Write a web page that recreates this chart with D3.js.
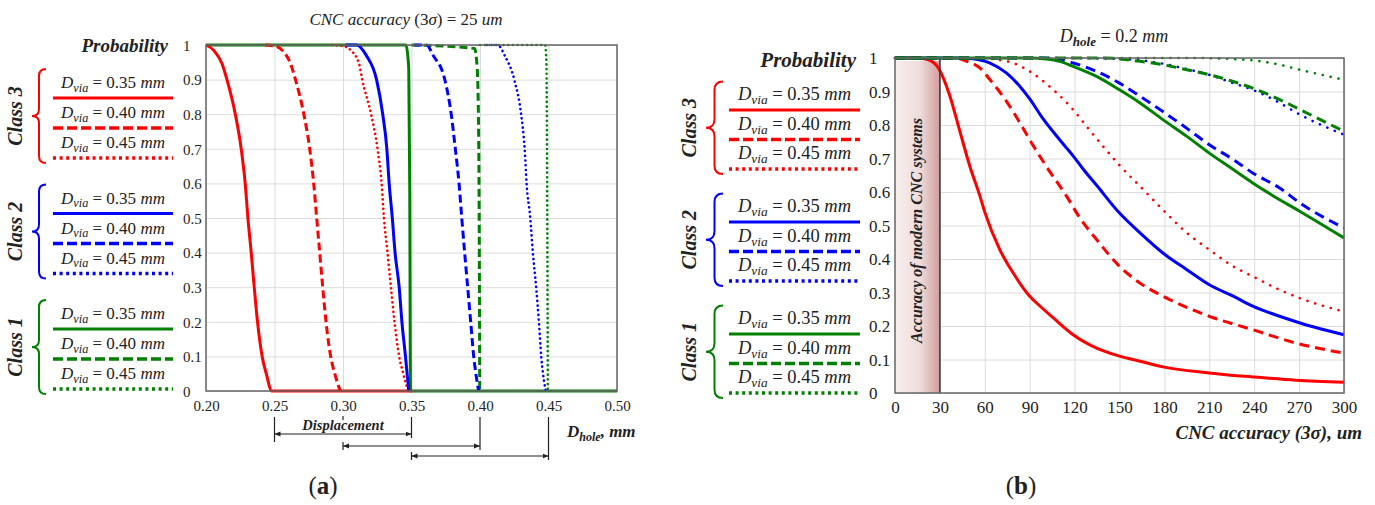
<!DOCTYPE html>
<html>
<head>
<meta charset="utf-8">
<script src="https://cdn.jsdelivr.net/npm/d3@7"></script>
<style>
  body { margin: 0; background: #fff; }
  text { font-family: "Liberation Serif", "DejaVu Serif", serif; fill: #222; }
</style>
</head>
<body>
<div id="chart"></div>
<script>
// ---- data ----
const classNames = ["Class 3", "Class 2", "Class 1"];
const dviaValues = ["0.35", "0.40", "0.45"];
const probTicks = [0, 0.1, 0.2, 0.3, 0.4, 0.5, 0.6, 0.7, 0.8, 0.9, 1];
const holeTicks = [0.20, 0.25, 0.30, 0.35, 0.40, 0.45, 0.50];
const accTicks = [0, 30, 60, 90, 120, 150, 180, 210, 240, 270, 300];
const displacement = [[0.25, 0.35], [0.30, 0.40], [0.35, 0.45]];
const modernAccuracy = 30;

// (a) probability vs D_hole, CNC accuracy 25 um
const a_c3_035 = [[0.200,1],[0.2056,0.985],[0.2117,0.946],[0.2153,0.9],[0.2214,0.8],[0.2257,0.7],[0.2286,0.6],[0.2306,0.5],[0.233,0.4],[0.2352,0.3],[0.2376,0.2],[0.241,0.1],[0.244,0.05],[0.248,0],[0.350,0]];
const a_c3_040 = [[0.243,1],[0.250,0.997],[0.2556,0.985],[0.2617,0.946],[0.2653,0.9],[0.2714,0.8],[0.2757,0.7],[0.2786,0.6],[0.2808,0.5],[0.283,0.4],[0.2852,0.3],[0.2876,0.2],[0.291,0.1],[0.294,0.05],[0.298,0]];
const a_c3_045 = [[0.292,1],[0.300,0.997],[0.3056,0.985],[0.3117,0.946],[0.314,0.9],[0.3205,0.8],[0.3252,0.7],[0.3282,0.6],[0.3299,0.5],[0.3325,0.4],[0.335,0.3],[0.3376,0.2],[0.341,0.1],[0.344,0.05],[0.3476,0]];
const a_c2_035 = [[0.302,1],[0.310,1],[0.317,0.97],[0.3245,0.9],[0.329,0.8],[0.332,0.7],[0.3337,0.6],[0.336,0.5],[0.338,0.4],[0.341,0.3],[0.343,0.2],[0.3456,0.1],[0.348,0]];
const a_c2_040 = [[0.352,1],[0.361,1],[0.3658,0.97],[0.3743,0.9],[0.379,0.8],[0.382,0.7],[0.3847,0.6],[0.3867,0.5],[0.3888,0.4],[0.391,0.3],[0.3932,0.2],[0.3954,0.1],[0.397,0.05],[0.399,0]];
const a_c2_045 = [[0.405,1],[0.413,1],[0.418,0.97],[0.425,0.9],[0.430,0.8],[0.4326,0.7],[0.434,0.6],[0.4367,0.5],[0.4386,0.4],[0.441,0.3],[0.443,0.2],[0.4447,0.1],[0.446,0.05],[0.448,0]];
const a_c1_035 = [[0.200,1],[0.3459,1],[0.3475,0.96],[0.348,0.93],[0.3487,0.6],[0.3493,0],[0.500,0]];
const a_c1_040 = [[0.350,1],[0.396,0.99],[0.398,0.93],[0.399,0.75],[0.3995,0.4],[0.3998,0]];
const a_c1_045 = [[0.400,1],[0.4475,1],[0.4485,0.95],[0.449,0.6],[0.4495,0]];

// (b) probability vs CNC accuracy, D_hole 0.2 mm
const b_c3_035 = [[0,1],[15,1],[22,0.995],[29,0.97],[36.7,0.886],[43.4,0.78],[50,0.677],[56.8,0.587],[60,0.54],[70,0.428],[79,0.358],[90,0.289],[97,0.259],[105.8,0.224],[119,0.174],[134.7,0.134],[150,0.11],[163.7,0.095],[179,0.078],[210,0.06],[239,0.048],[268,0.038],[300,0.032]];
const b_c3_040 = [[0,1],[40,1],[48,0.99],[56.8,0.97],[63.5,0.935],[74.6,0.87],[83.5,0.806],[90,0.756],[101,0.677],[114.7,0.587],[123.6,0.522],[134.7,0.458],[150,0.378],[163.7,0.328],[179,0.289],[210,0.229],[239,0.189],[268,0.149],[300,0.119]];
const b_c3_045 = [[0,1],[55,1],[68,0.995],[79,0.985],[90,0.96],[105.8,0.905],[119,0.846],[128,0.796],[141,0.726],[150,0.68],[163.7,0.617],[179,0.547],[195,0.478],[210,0.428],[226,0.378],[239,0.348],[257,0.308],[270.6,0.283],[300,0.243]];
const b_c2_035 = [[0,1],[45,1],[52,0.998],[63.5,0.985],[74.6,0.955],[83.5,0.915],[90,0.878],[99,0.818],[110,0.756],[119,0.708],[125.8,0.668],[134.7,0.62],[150,0.537],[163.7,0.478],[179,0.418],[195,0.368],[210,0.323],[226,0.289],[239,0.259],[257,0.229],[270.6,0.209],[300,0.174]];
const b_c2_040 = [[0,1],[100,1],[119,0.985],[134.7,0.96],[150,0.925],[163.7,0.886],[179,0.84],[195,0.79],[210,0.741],[226,0.697],[239,0.657],[257,0.612],[270.6,0.567],[300,0.493]];
const b_c2_045 = [[0,1],[110,1],[150,0.997],[163.7,0.993],[179,0.983],[195,0.967],[210,0.95],[226,0.925],[239,0.905],[257,0.866],[270.6,0.831],[300,0.771]];
const b_c1_035 = [[0,1],[90,1],[101,0.997],[110,0.99],[119,0.975],[134.7,0.945],[150,0.905],[163.7,0.866],[179,0.816],[195,0.766],[210,0.716],[226,0.667],[239,0.627],[257,0.577],[270.6,0.542],[300,0.463]];
const b_c1_040 = [[0,1],[140,1],[163.7,0.99],[179,0.98],[195,0.965],[210,0.95],[226,0.93],[239,0.91],[257,0.876],[270.6,0.846],[300,0.781]];
const b_c1_045 = [[0,1],[200,1],[226,0.997],[239,0.993],[257,0.98],[270.6,0.965],[300,0.935]];

// draw order matters a bit (what shows on the plateau at P = 1)
const seriesA = [
  {cls: "Class 1", dv: "0.35", values: a_c1_035},
  {cls: "Class 1", dv: "0.40", values: a_c1_040},
  {cls: "Class 1", dv: "0.45", values: a_c1_045},
  {cls: "Class 3", dv: "0.35", values: a_c3_035},
  {cls: "Class 3", dv: "0.40", values: a_c3_040},
  {cls: "Class 3", dv: "0.45", values: a_c3_045},
  {cls: "Class 2", dv: "0.35", values: a_c2_035},
  {cls: "Class 2", dv: "0.40", values: a_c2_040},
  {cls: "Class 2", dv: "0.45", values: a_c2_045}
];
const seriesB = [
  {cls: "Class 3", dv: "0.35", values: b_c3_035},
  {cls: "Class 3", dv: "0.40", values: b_c3_040},
  {cls: "Class 3", dv: "0.45", values: b_c3_045},
  {cls: "Class 2", dv: "0.35", values: b_c2_035},
  {cls: "Class 2", dv: "0.40", values: b_c2_040},
  {cls: "Class 2", dv: "0.45", values: b_c2_045},
  {cls: "Class 1", dv: "0.45", values: b_c1_045},
  {cls: "Class 1", dv: "0.40", values: b_c1_040},
  {cls: "Class 1", dv: "0.35", values: b_c1_035}
];

// ---- setup ----
const color = d3.scaleOrdinal().domain(classNames).range(["#ff0000", "#0000ff", "#008000"]);

const svg = d3.select("#chart").append("svg")
  .attr("width", 1375)
  .attr("height", 505);

const defs = svg.append("defs");
defs.append("marker")
  .attr("id", "arr")
  .attr("viewBox", "0 0 10 10")
  .attr("refX", 10).attr("refY", 5)
  .attr("markerWidth", 5).attr("markerHeight", 5)
  .attr("orient", "auto-start-reverse")
  .append("path").attr("d", "M0,1 L10,5 L0,9 z").attr("fill", "#222");

const grad = defs.append("linearGradient").attr("id", "shade")
  .attr("x1", "0%").attr("x2", "100%").attr("y1", "0%").attr("y2", "0%");
grad.append("stop").attr("offset", "0%").attr("stop-color", "#f8efef");
grad.append("stop").attr("offset", "55%").attr("stop-color", "#efdcdc");
grad.append("stop").attr("offset", "100%").attr("stop-color", "#d49c9c");

function brace(g, x0, y0, y1, w, col) {
  const xm = x0 + w / 2, ym = (y0 + y1) / 2, r = w / 2;
  const p = d3.path();
  p.moveTo(x0 + w, y0);
  p.quadraticCurveTo(xm, y0, xm, y0 + r);
  p.lineTo(xm, ym - r);
  p.quadraticCurveTo(xm, ym, x0, ym);
  p.quadraticCurveTo(xm, ym, xm, ym + r);
  p.lineTo(xm, y1 - r);
  p.quadraticCurveTo(xm, y1, x0 + w, y1);
  g.append("path").attr("d", p.toString())
    .attr("fill", "none").attr("stroke", col).attr("stroke-width", 2);
}

function dviaText(sel, dv, fs) {
  sel.append("tspan").attr("font-style", "italic").text("D");
  sel.append("tspan").attr("font-style", "italic").attr("font-size", fs * 0.72).attr("dy", fs * 0.22).text("via");
  sel.append("tspan").attr("dy", -fs * 0.22).text(" = " + dv + " ");
  sel.append("tspan").attr("font-style", "italic").text("mm");
}

// legend block: braces, class labels, line samples
function legend(o) {
  const g = svg.append("g");
  g.append("text")
    .attr("x", o.probX).attr("y", o.probY)
    .attr("text-anchor", "end")
    .style("font-weight", "bold").style("font-style", "italic")
    .style("font-size", o.probFs + "px")
    .text("Probability");
  classNames.forEach((c, i) => {
    const lineY = dviaValues.map((d, j) => o.y0 + i * o.classStep + j * o.rowStep);
    const bTop = lineY[0] - o.rowStep + 1, bBot = lineY[2] + 5;
    brace(g, o.braceX, bTop, bBot, o.braceW, color(c));
    g.append("text")
      .attr("transform", "translate(" + o.classX + "," + ((bTop + bBot) / 2) + ") rotate(-90)")
      .attr("text-anchor", "middle")
      .style("font-weight", "bold").style("font-style", "italic")
      .style("font-size", o.classFs + "px")
      .text(c);
    dviaValues.forEach((dv, j) => {
      const t = g.append("text")
        .attr("x", (o.lx0 + o.lx1) / 2).attr("y", lineY[j] - 10)
        .attr("text-anchor", "middle")
        .style("font-size", o.fs + "px");
      dviaText(t, dv, o.fs);
      g.append("line")
        .attr("x1", o.lx0).attr("x2", o.lx1)
        .attr("y1", lineY[j]).attr("y2", lineY[j])
        .attr("stroke", color(c))
        .attr("stroke-width", j === 0 ? 3 : 3.5)
        .attr("stroke-dasharray", j === 0 ? null : (j === 1 ? "10,4" : "3,3.6"));
    });
  });
}

function panel(o) {
  const x = d3.scaleLinear().domain(o.xDomain).range([o.left, o.right]);
  const y = d3.scaleLinear().domain([0, 1]).range([o.bottom, o.top]);
  const g = svg.append("g");
  const h = o.bottom - o.top, w = o.right - o.left;

  // grid
  g.append("g").attr("transform", "translate(0," + o.bottom + ")")
    .call(d3.axisBottom(x).tickValues(o.xTicks).tickSize(-h).tickFormat(""))
    .call(s => s.select(".domain").remove())
    .call(s => s.selectAll("line").attr("stroke", "#dcdcdc"));
  g.append("g").attr("transform", "translate(" + o.left + ",0)")
    .call(d3.axisLeft(y).tickValues(probTicks).tickSize(-w).tickFormat(""))
    .call(s => s.select(".domain").remove())
    .call(s => s.selectAll("line").attr("stroke", "#dcdcdc"));

  if (o.before) o.before(g, x, y);

  // tick labels
  g.append("g").attr("transform", "translate(0," + o.bottom + ")")
    .call(d3.axisBottom(x).tickValues(o.xTicks).tickSize(0).tickPadding(o.xPad).tickFormat(o.xFormat))
    .call(s => s.select(".domain").remove())
    .call(s => s.selectAll("text").style("font-size", o.tickFs + "px").style("font-family", null).attr("fill", "#222"));
  g.append("g").attr("transform", "translate(" + o.left + ",0)")
    .call(d3.axisLeft(y).tickValues(probTicks).tickSize(0).tickFormat(d => d === 0 || d === 1 ? d : d3.format(".1f")(d)))
    .call(s => s.select(".domain").remove())
    .call(s => s.selectAll("text")
      .attr("text-anchor", "start").attr("x", o.yLabelX - o.left).attr("dy", "0.35em")
      .style("font-size", o.tickFs + "px").style("font-family", null).attr("fill", "#222"));

  const line = d3.line().x(d => x(d[0])).y(d => y(d[1])).curve(d3.curveMonotoneX);
  g.append("g").selectAll("path")
    .data(o.series)
    .enter()
    .append("path")
    .attr("d", d => line(d.values))
    .attr("fill", "none")
    .attr("stroke", d => color(d.cls))
    .attr("stroke-width", d => d.dv === "0.45" ? 2.6 : 3)
    .attr("stroke-linecap", d => d.dv === "0.45" ? "round" : "butt")
    .attr("stroke-dasharray", d => d.dv === "0.35" ? null : (d.dv === "0.40" ? o.dash : o.dot));

  if (o.after) o.after(g, x, y);

  g.append("rect")
    .attr("x", o.left).attr("y", o.top).attr("width", w).attr("height", h)
    .attr("fill", "none").attr("stroke", "#666").attr("stroke-width", 1.5);
  return x;
}

// ---- panel (a) ----
legend({probX: 168, probY: 52, probFs: 19, y0: 98, classStep: 115.5, rowStep: 30,
  braceX: 32, braceW: 14, classX: 22, classFs: 20, lx0: 53, lx1: 173, fs: 17});

const xa = panel({
  xDomain: [0.2, 0.5], left: 206, right: 617, top: 45, bottom: 391,
  xTicks: holeTicks, xFormat: d3.format(".2f"), xPad: 9, tickFs: 15, yLabelX: 183,
  series: seriesA, dash: "8,4", dot: "0.1,4.6"
});

const titleA = svg.append("text").attr("x", 406).attr("y", 25).attr("text-anchor", "middle")
  .style("font-size", "17px");
titleA.append("tspan").style("font-style", "italic").text("CNC accuracy ");
titleA.append("tspan").text("(3");
titleA.append("tspan").style("font-style", "italic").text("σ");
titleA.append("tspan").text(") = 25 ");
titleA.append("tspan").style("font-style", "italic").text("um");

// displacement arrows under the axis
const arrowY = [434, 446, 456];
const disp = svg.append("g").attr("stroke", "#222").attr("stroke-width", 1.2);
displacement.forEach((d, i) => {
  const x0 = xa(d[0]), x1 = xa(d[1]), ay = arrowY[i];
  disp.append("line").attr("x1", x0).attr("x2", x1).attr("y1", ay).attr("y2", ay)
    .attr("marker-start", "url(#arr)").attr("marker-end", "url(#arr)");
  disp.append("line").attr("x1", x1).attr("x2", x1).attr("y1", 417).attr("y2", ay + 4);
  disp.append("line").attr("x1", x0).attr("x2", x0)
    .attr("y1", i === 0 ? 417 : ay - 4).attr("y2", i === 0 ? ay + 8 : ay + 4);
});
disp.append("line").attr("x1", xa(0.30)).attr("x2", xa(0.30)).attr("y1", 416).attr("y2", 420);
svg.append("text").attr("x", xa(0.30)).attr("y", 430).attr("text-anchor", "middle")
  .style("font-weight", "bold").style("font-style", "italic").style("font-size", "14.5px")
  .text("Displacement");

const dhole = svg.append("text").attr("x", 567).attr("y", 437)
  .style("font-weight", "bold").style("font-style", "italic").style("font-size", "17px");
dhole.append("tspan").text("D");
dhole.append("tspan").attr("dy", 4).style("font-size", "12px").text("hole");
dhole.append("tspan").attr("dy", -4).text(", mm");

const labA = svg.append("text").attr("x", 323).attr("y", 494).attr("text-anchor", "middle")
  .style("font-size", "25px");
labA.append("tspan").text("(");
labA.append("tspan").style("font-weight", "bold").text("a");
labA.append("tspan").text(")");

// ---- panel (b) ----
legend({probX: 856, probY: 67, probFs: 21, y0: 110, classStep: 112, rowStep: 29.5,
  braceX: 706, braceW: 17, classX: 696, classFs: 20, lx0: 729, lx1: 860, fs: 18.5});

panel({
  xDomain: [0, 300], left: 895, right: 1344, top: 58, bottom: 393,
  xTicks: accTicks, xFormat: d3.format("d"), xPad: 8, tickFs: 17, yLabelX: 869,
  series: seriesB, dash: "10,6", dot: "0.1,8",
  before: (g, x, y) => {
    g.append("rect")
      .attr("x", x(0)).attr("y", y(1) + 3)
      .attr("width", x(modernAccuracy) - x(0)).attr("height", y(0) - y(1) - 3)
      .attr("fill", "url(#shade)");
  },
  after: (g, x, y) => {
    g.append("line")
      .attr("x1", x(modernAccuracy)).attr("x2", x(modernAccuracy))
      .attr("y1", y(1)).attr("y2", y(0))
      .attr("stroke", "#333").attr("stroke-width", 1.5);
    g.append("text")
      .attr("transform", "translate(" + (x(modernAccuracy / 2) + 5) + "," + ((y(0) + y(1)) / 2 + 5) + ") rotate(-90)")
      .attr("text-anchor", "middle")
      .style("font-weight", "bold").style("font-style", "italic").style("font-size", "16px")
      .text("Accuracy of modern CNC systems");
  }
});

const titleB = svg.append("text").attr("x", 1114).attr("y", 42).attr("text-anchor", "middle")
  .style("font-size", "18px");
titleB.append("tspan").style("font-style", "italic").text("D");
titleB.append("tspan").attr("dy", 4).style("font-size", "13px").style("font-weight", "bold").style("font-style", "italic").text("hole");
titleB.append("tspan").attr("dy", -4).text(" = 0.2 ");
titleB.append("tspan").style("font-style", "italic").text("mm");

const accTitle = svg.append("text").attr("x", 1362).attr("y", 439).attr("text-anchor", "end")
  .style("font-weight", "bold").style("font-style", "italic").style("font-size", "19px");
accTitle.append("tspan").text("CNC accuracy (3");
accTitle.append("tspan").text("σ");
accTitle.append("tspan").text("), um");

const labB = svg.append("text").attr("x", 1021).attr("y", 494).attr("text-anchor", "middle")
  .style("font-size", "25px");
labB.append("tspan").text("(");
labB.append("tspan").style("font-weight", "bold").text("b");
labB.append("tspan").text(")");
</script>
</body>
</html>
